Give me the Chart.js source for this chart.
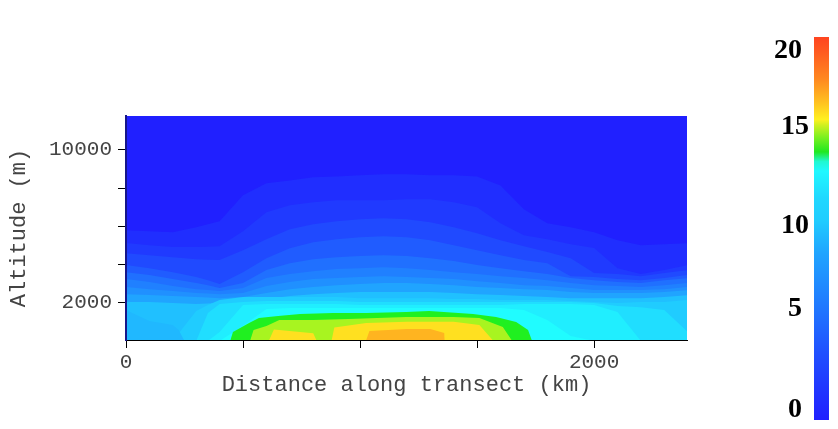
<!DOCTYPE html>
<html>
<head>
  <title>Distance along transect</title>
  <script src="https://cdn.jsdelivr.net/npm/chart.js"></script>
  <style>
    html, body { margin: 0; padding: 0; background: #fff; overflow: hidden; }
    #section { position: absolute; left: 0; top: 0; }
    #colorbar { position: absolute; left: 760px; top: 0; }
  </style>
</head>
<body>
  <canvas id="section" width="760" height="429"></canvas>
  <canvas id="colorbar" width="78" height="429"></canvas>
  <script>
    // axis ticks
    const xTicks = [0, 500, 1000, 1500, 2000];
    const xTickLabels = { 0: '0', 2000: '2000' };
    const yTicks = [2000, 4000, 6000, 8000, 10000];
    const yTickLabels = { 2000: '2000', 10000: '10000' };

    // contour heights (m), lowest value first
    const distances = [0, 100, 200, 300, 350, 400, 500, 600, 700, 800, 900, 1000, 1100, 1200, 1300, 1400, 1500, 1600, 1700, 1800, 1900, 2000, 2100, 2200, 2300, 2400];
    const levelA = [5790, 5740, 5690, 5950, 6100, 6260, 7620, 8250, 8400, 8560, 8610, 8670, 8720, 8720, 8670, 8670, 8610, 8140, 6890, 6160, 5950, 5690, 5270, 5010, 5060, 5120];
    const levelB = [5120, 5010, 4910, 4910, 4930, 4960, 5740, 6730, 7100, 7260, 7360, 7360, 7360, 7410, 7410, 7260, 6990, 6160, 5530, 5320, 5060, 4860, 3810, 3500, 3710, 3970];
    const levelC = [4590, 4490, 4380, 4280, 4250, 4230, 4750, 5320, 5850, 6110, 6260, 6370, 6420, 6370, 6210, 5950, 5640, 5270, 4960, 4650, 4330, 3550, 3500, 3390, 3550, 3710];
    const levelD = [3970, 3810, 3600, 3340, 3180, 2980, 3600, 4330, 4850, 5170, 5320, 5430, 5480, 5430, 5270, 5010, 4750, 4490, 4230, 4070, 3390, 3340, 3240, 3180, 3290, 3450];
    const levelE = [3600, 3450, 3240, 3030, 2920, 2770, 3030, 3710, 4070, 4280, 4380, 4440, 4490, 4440, 4330, 4180, 3970, 3810, 3650, 3500, 3290, 3180, 3080, 3030, 3180, 3290];
    const levelF = [3240, 3080, 2870, 2710, 2660, 2610, 2770, 3290, 3500, 3650, 3760, 3810, 3860, 3810, 3710, 3600, 3500, 3390, 3290, 3180, 3030, 2920, 2870, 2820, 2920, 3030];
    const levelG = [2820, 2710, 2610, 2510, 2480, 2450, 2510, 2870, 3080, 3240, 3290, 3340, 3390, 3340, 3290, 3240, 3130, 3030, 2920, 2870, 2770, 2660, 2660, 2660, 2710, 2820];
    const levelH = [2450, 2400, 2350, 2300, 2270, 2240, 2300, 2510, 2710, 2820, 2920, 2980, 3030, 3030, 2980, 2920, 2820, 2770, 2710, 2660, 2560, 2510, 2510, 2510, 2560, 2660];
    const levelI = [2040, 2040, 1980, 1930, 1960, 1980, 2040, 2190, 2350, 2450, 2510, 2560, 2560, 2560, 2560, 2510, 2450, 2400, 2350, 2300, 2240, 2240, 2240, 2240, 2300, 2400];
    const levelJ = [0, 0, 0, 1570, 1880, 2140, 2300, 2300, 2300, 2300, 2300, 2240, 2240, 2240, 2240, 2190, 2190, 2140, 2140, 2140, 2090, 2040, 1980, 2040, 2040, 2140];
    const levelK = [0, 0, 0, 0, 1460, 1930, 2040, 2090, 2090, 2090, 2090, 2040, 2040, 2040, 2040, 2040, 2040, 2040, 2040, 2040, 2040, 1980, 1830, 1770, 1620, 470];
    const levelL = [0, 0, 0, 0, 0, 470, 1880, 1930, 1930, 1930, 1930, 1880, 1880, 1880, 1880, 1880, 1880, 1880, 1930, 1930, 1930, 1880, 1510, 0, 0, 0];
    const levelM = [0, 0, 0, 0, 0, 0, 800, 1670, 1720, 1720, 1720, 1720, 1720, 1720, 1720, 1720, 1720, 1720, 1620, 1100, 260, 0, 0, 0, 0, 0];

    // the low patch at the bottom left
    const patchDist = [0, 100, 200, 225, 250];
    const patchAlt = [1620, 1040, 840, 570, 0];

    // the core, these have sharper edges than the common grid
    const greenDist = [445, 457, 526, 568, 650, 744, 885, 1026, 1197, 1295, 1483, 1581, 1667, 1718, 1735];
    const greenAlt = [0, 470, 940, 1200, 1310, 1410, 1460, 1460, 1510, 1570, 1410, 1250, 990, 570, 0];
    const limeDist = [530, 545, 600, 655, 800, 950, 1197, 1400, 1510, 1610, 1650];
    const limeAlt = [0, 570, 780, 1100, 1100, 1150, 1250, 1250, 1200, 730, 0];
    const yellowDist = [610, 632, 800, 815, 878, 890, 1026, 1200, 1300, 1400, 1510, 1570];
    const yellowAlt = [0, 600, 400, 0, 0, 700, 940, 1000, 1000, 1000, 830, 0];
    const orangeDist = [1025, 1040, 1200, 1300, 1360, 1362];
    const orangeAlt = [0, 520, 620, 620, 420, 0];

    // colour bar
    const barTickPos = [0.53, 5.8, 10.15, 15.3, 19.3];
    const barTickLabels = ['0 ', '5 ', '10', '15', '20 '];
    const barStops = [0, 3.5, 5.9, 8.7, 9.9, 10.4, 11.6, 13, 13.5, 14, 14.8, 15.4, 15.7, 16.6, 17.8, 19.3, 20];
    const barColors = ['#2020ff', '#2050ff', '#2078ff', '#20a4ff', '#20c0ff', '#20ccff', '#20d8ff', '#20f8ff', '#20f8d0', '#20e820', '#80f020', '#d0f020', '#fff020', '#ffc020', '#ff8820', '#ff5820', '#ff4420'];

    const toPoints = (xs, ys) => xs.map((x, i) => ({ x: x, y: ys[i] }));
    const band = (xs, ys, color) => ({
      data: toPoints(xs, ys),
      backgroundColor: color,
      borderWidth: 0,
      pointRadius: 0,
      tension: 0,
      fill: 'origin'
    });

    const tickFont = { family: '"Liberation Mono", monospace', size: 21 };
    const titleFont = { family: '"Liberation Mono", monospace', size: 22 };
    const inkColor = '#444';

    // first dataset is painted last
    new Chart(document.getElementById('section'), {
      type: 'line',
      data: {
        datasets: [
          band(orangeDist, orangeAlt, '#ffb420'),
          band(yellowDist, yellowAlt, '#ffe020'),
          band(limeDist, limeAlt, '#a8f420'),
          band(greenDist, greenAlt, '#20f020'),
          band(patchDist, patchAlt, '#20b8ff'),
          band(distances, levelM, '#20fcff'),
          band(distances, levelL, '#20eeff'),
          band(distances, levelK, '#20deff'),
          band(distances, levelJ, '#20ccff'),
          band(distances, levelI, '#20c0ff'),
          band(distances, levelH, '#20a4ff'),
          band(distances, levelG, '#2090ff'),
          band(distances, levelF, '#2080ff'),
          band(distances, levelE, '#2070ff'),
          band(distances, levelD, '#205cff'),
          band(distances, levelC, '#204aff'),
          band(distances, levelB, '#203aff'),
          band(distances, levelA, '#202eff')
        ]
      },
      options: {
        responsive: false,
        animation: false,
        layout: { padding: { left: 0, right: 73, top: 116, bottom: 0 } },
        plugins: {
          legend: { display: false },
          tooltip: { enabled: false }
        },
        scales: {
          x: {
            type: 'linear',
            min: 0,
            max: 2397,
            afterFit: scale => { scale.height = 89; },
            afterBuildTicks: scale => { scale.ticks = xTicks.map(v => ({ value: v })); },
            grid: { drawOnChartArea: false, tickLength: 8, color: '#000', z: 1 },
            border: { color: '#000', z: 1 },
            ticks: {
              autoSkip: false,
              maxRotation: 0,
              padding: 2,
              color: inkColor,
              font: tickFont,
              callback: v => xTickLabels[v] || ''
            },
            title: {
              display: true,
              text: 'Distance along transect (km)',
              color: inkColor,
              font: titleFont,
              padding: { top: 0, bottom: 31 }
            }
          },
          y: {
            min: 50,
            max: 11770,
            afterFit: scale => { scale.width = 126; },
            afterBuildTicks: scale => { scale.ticks = yTicks.map(v => ({ value: v })); },
            grid: { drawOnChartArea: false, tickLength: 8, color: '#000', z: 1 },
            border: { color: '#16168a', width: 2, z: 1 },
            ticks: {
              autoSkip: false,
              padding: 6,
              color: inkColor,
              font: tickFont,
              callback: v => yTickLabels[v] || ''
            },
            title: {
              display: true,
              text: 'Altitude (m)',
              color: inkColor,
              font: titleFont,
              padding: { top: 6, bottom: 0 }
            }
          }
        }
      },
      plugins: [{
        id: 'plotBackground',
        beforeDatasetsDraw(chart) {
          const a = chart.chartArea;
          chart.ctx.fillStyle = '#2020ff';
          chart.ctx.fillRect(a.left, a.top, a.right - a.left, a.bottom - a.top);
        }
      }]
    });

    function barGradient(context) {
      const chart = context.chart;
      const y0 = chart.scales.y.getPixelForValue(0);
      const y1 = chart.scales.y.getPixelForValue(20);
      // the scale has no pixels yet on the first pass
      if (!isFinite(y0) || !isFinite(y1)) return barColors[0];
      const g = chart.ctx.createLinearGradient(0, y0, 0, y1);
      barStops.forEach((v, i) => g.addColorStop(v / 20, barColors[i]));
      return g;
    }

    new Chart(document.getElementById('colorbar'), {
      type: 'bar',
      data: {
        labels: [''],
        datasets: [{
          data: [[0, 20]],
          backgroundColor: barGradient,
          borderWidth: 0,
          barPercentage: 1,
          categoryPercentage: 1
        }]
      },
      options: {
        responsive: false,
        animation: false,
        layout: { padding: { left: 0, right: 9, top: 37, bottom: 9 } },
        plugins: {
          legend: { display: false },
          tooltip: { enabled: false }
        },
        scales: {
          x: { display: false },
          y: {
            min: 0,
            max: 20,
            afterFit: scale => {
              scale.width = 54;
              scale.paddingTop = 0;
              scale.paddingBottom = 0;
            },
            afterBuildTicks: scale => { scale.ticks = barTickPos.map(v => ({ value: v })); },
            grid: { display: false, drawTicks: false, tickLength: 0 },
            border: { display: false },
            ticks: {
              autoSkip: false,
              padding: 5,
              color: '#000',
              font: { family: '"Liberation Serif", serif', size: 28, weight: 'bold' },
              callback: (v, i) => barTickLabels[i]
            }
          }
        }
      }
    });
  </script>
</body>
</html>
